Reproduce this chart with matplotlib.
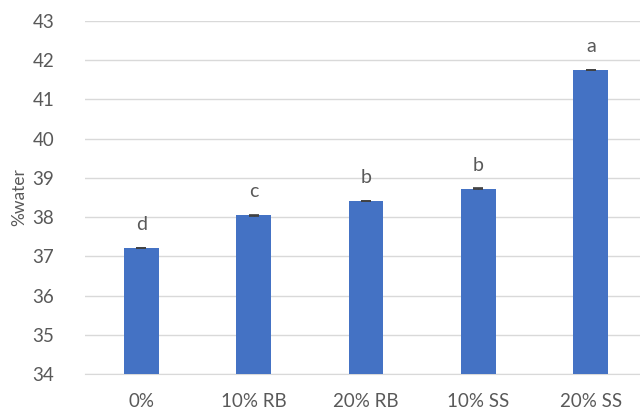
import matplotlib
matplotlib.use("Agg")
import matplotlib.pyplot as plt
import numpy as np

# data
categories = ["0%", "10% RB", "20% RB", "10% SS", "20% SS"]
water = [37.21, 38.05, 38.41, 38.72, 41.75]
err = [0.01, 0.01, 0.01, 0.01, 0.01]
letters = ["d", "c", "b", "b", "a"]

plt.rcParams['font.family'] = ['Lato', 'DejaVu Sans']
grey = '#595959'

fig = plt.figure(figsize=(6.4, 4.13), dpi=100)
ax = fig.add_axes([85 / 640, 39 / 413, 562 / 640, 353 / 413])

x = np.arange(len(categories))
ax.bar(x, water, width=0.31, color='#4472C4', zorder=3)
ax.errorbar(x, water, yerr=err, fmt='none', ecolor='#404040',
            elinewidth=1, capsize=3.5, capthick=1.2, zorder=4)

for xi, v, lab in zip(x, water, letters):
    ax.annotate(lab, (xi, v), xytext=(0, 11), textcoords='offset points',
                ha='center', va='bottom', fontsize=14, color=grey)

ax.set_xlim(-0.5, len(categories) - 0.5)
ax.set_ylim(34, 43)
ax.set_yticks(range(34, 44))
ax.set_xticks(x)
ax.set_xticklabels(categories)
ax.tick_params(axis='both', length=0, labelsize=13.5, labelcolor=grey)
ax.tick_params(axis='y', pad=22)
ax.tick_params(axis='x', pad=14)

ax.grid(axis='y', color='#d9d9d9', linewidth=1, zorder=0)
for s in ['top', 'right', 'left']:
    ax.spines[s].set_visible(False)
ax.spines['bottom'].set_color('#d9d9d9')
ax.spines['bottom'].set_zorder(0)

ax.set_ylabel('%water', fontsize=12.5, color=grey, labelpad=4)

fig.savefig('out.png', dpi=100)
